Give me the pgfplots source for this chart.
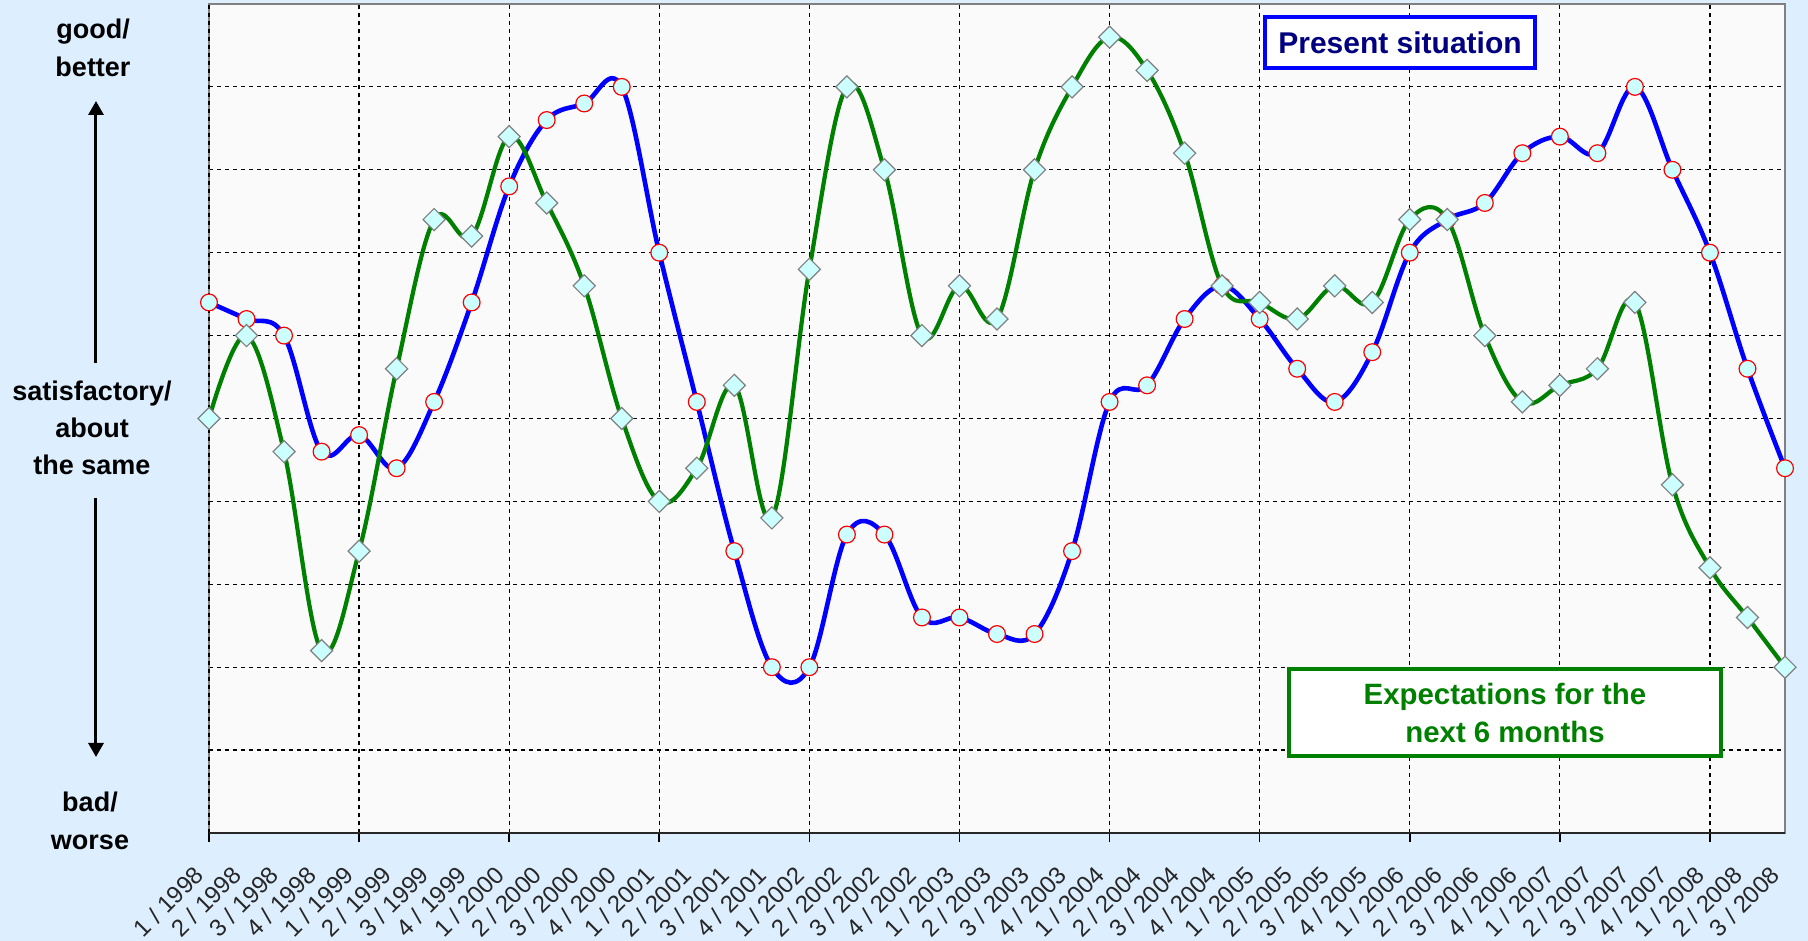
\documentclass[border=0pt]{standalone}
\usepackage{fontspec}
\setmainfont{Liberation Sans}
\usepackage{pgfplots}
\pgfplotsset{compat=1.18}
\usetikzlibrary{arrows.meta}
\definecolor{bgblue}{HTML}{DDEEFF}
\definecolor{plotbg}{HTML}{FAFAFA}
\definecolor{mkfill}{HTML}{CCFFFF}
\definecolor{navy}{HTML}{000080}
\definecolor{darkgreen}{HTML}{008000}

\pgfplotstableread{
q  v
0  6.4
1  6.2
2  6.0
3  4.6
4  4.8
5  4.4
6  5.2
7  6.4
8  7.8
9  8.6
10 8.8
11 9.0
12 7.0
13 5.2
14 3.4
15 2.0
16 2.0
17 3.6
18 3.6
19 2.6
20 2.6
21 2.4
22 2.4
23 3.4
24 5.2
25 5.4
26 6.2
27 6.6
28 6.2
29 5.6
30 5.2
31 5.8
32 7.0
33 7.4
34 7.6
35 8.2
36 8.4
37 8.2
38 9.0
39 8.0
40 7.0
41 5.6
42 4.4
}\present

\pgfplotstableread{
q  v
0  5.0
1  6.0
2  4.6
3  2.2
4  3.4
5  5.6
6  7.4
7  7.2
8  8.4
9  7.6
10 6.6
11 5.0
12 4.0
13 4.4
14 5.4
15 3.8
16 6.8
17 9.0
18 8.0
19 6.0
20 6.6
21 6.2
22 8.0
23 9.0
24 9.6
25 9.2
26 8.2
27 6.6
28 6.4
29 6.2
30 6.6
31 6.4
32 7.4
33 7.4
34 6.0
35 5.2
36 5.4
37 5.6
38 6.4
39 4.2
40 3.2
41 2.6
42 2.0
}\expect

\begin{document}
\begin{tikzpicture}
\fill[bgblue] (-104.5pt,-54pt) rectangle (799.5pt,416.5pt);
\begin{axis}[
  at={(0,0)}, anchor=south west,
  scale only axis, width=788pt, height=414.5pt,
  xmin=0, xmax=42, ymin=0, ymax=10,
  clip=false,
  axis background/.style={fill=plotbg},
  axis line style={gray, line width=0.8pt},
  xtick={0,...,42},
  xticklabels={1 / 1998,2 / 1998,3 / 1998,4 / 1998,
    1 / 1999,2 / 1999,3 / 1999,4 / 1999,
    1 / 2000,2 / 2000,3 / 2000,4 / 2000,
    1 / 2001,2 / 2001,3 / 2001,4 / 2001,
    1 / 2002,2 / 2002,3 / 2002,4 / 2002,
    1 / 2003,2 / 2003,3 / 2003,4 / 2003,
    1 / 2004,2 / 2004,3 / 2004,4 / 2004,
    1 / 2005,2 / 2005,3 / 2005,4 / 2005,
    1 / 2006,2 / 2006,3 / 2006,4 / 2006,
    1 / 2007,2 / 2007,3 / 2007,4 / 2007,
    1 / 2008,2 / 2008,3 / 2008},
  xticklabel style={font=\fontsize{12}{12}\selectfont, text=black!85,
    inner sep=0pt, xshift=-8pt, yshift=-15.5pt, rotate=45, anchor=north east},
  major tick length=0pt,
  ytick={1,...,9}, yticklabels={},
  ytick style={draw=none},
  xmajorgrids=false, ymajorgrids=true,
  grid style={black, line width=0.6pt, dash pattern=on 2pt off 2pt},
  extra x ticks={0,4,...,40},
  extra x tick labels={},
  extra x tick style={xmajorgrids=true, ymajorgrids=false,
    major tick length=4.5pt, tick align=outside, xtick pos=bottom,
    tick style={black, line width=0.8pt}},
]
\addplot[blue, line width=2.3pt, smooth, tension=0.6,
  mark=*, mark size=4.2pt,
  mark options={fill=mkfill, draw=red, line width=0.6pt, solid}]
  table[x=q, y=v] {\present};
\addplot[darkgreen, line width=2.1pt, smooth, tension=0.6,
  mark=square*, mark size=3.9pt,
  mark options={fill=mkfill, draw=gray, line width=0.6pt, solid, rotate=45}]
  table[x=q, y=v] {\expect};
\end{axis}
\draw[black!85, line width=1.2pt] (0,0) -- (788pt,0);

\node[align=center, font=\bfseries\fontsize{13.5}{19}\selectfont] at (-58pt,392.5pt) {good/\\better};
\node[align=center, font=\bfseries\fontsize{13.5}{18.5}\selectfont] at (-58.5pt,202.5pt) {satisfactory/\\about\\the same};
\node[align=center, font=\bfseries\fontsize{13.5}{19}\selectfont] at (-59.5pt,6pt) {bad/\\worse};
\draw[line width=1.5pt, -{Triangle[length=7pt,width=7.5pt]}] (-56.5pt,235pt) -- (-56.5pt,366pt);
\draw[line width=1.5pt, -{Triangle[length=7pt,width=7.5pt]}] (-56.5pt,167.5pt) -- (-56.5pt,38pt);

\node[draw=blue, line width=2pt, fill=white, minimum width=135pt, minimum height=25.5pt,
  inner sep=0pt, text=navy, font=\bfseries\fontsize{15}{18}\selectfont]
  at (595.5pt,395.25pt) {Present situation};
\node[draw=darkgreen, line width=2pt, fill=white, minimum width=216pt, minimum height=43.5pt,
  inner sep=0pt, align=center, text=darkgreen, font=\bfseries\fontsize{14.7}{19}\selectfont]
  at (648pt,60.25pt) {Expectations for the\\next 6 months};

\pgfresetboundingbox
\useasboundingbox (-104.5pt,-54pt) rectangle (799.5pt,416.5pt);
\end{tikzpicture}
\end{document}
